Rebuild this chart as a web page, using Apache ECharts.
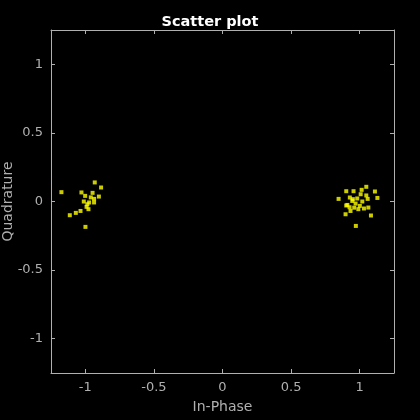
<!DOCTYPE html>
<html><head><meta charset="utf-8">
<script src="https://cdn.jsdelivr.net/npm/echarts@6/dist/echarts.min.js"></script>
<style>html,body{margin:0;padding:0;background:#000}#c{width:420px;height:420px}</style>
</head><body><div id="c"></div>
<script>
const titleText = "Scatter plot";
const xName = "In-Phase";
const yName = "Quadrature";
const tickValues = [-1, -0.5, 0, 0.5, 1];
const inPhase = [
  -1.174, -0.931, -0.885, -1.028, -0.947, -1.001, -0.901, -0.936, -1.011, -0.972,
  -0.936, -0.991, -0.977, -1.035, -1.069, -1.113, -0.999, -0.960, -0.985,
  0.902, 0.955, 1.014, 1.048, 1.111, 0.846, 0.928, 0.982, 1.007, 1.048,
  1.058, 1.129, 0.946, 0.970, 1.019, 0.902, 0.926, 1.001, 1.031, 1.063,
  0.933, 0.897, 1.082, 0.972, 0.950, 0.990, 0.960, 0.910
];
const quadrature = [
  0.068, 0.139, 0.102, 0.066, 0.063, 0.041, 0.036, 0.019, 0.000, -0.007,
  -0.007, -0.039, -0.056, -0.069, -0.083, -0.100, -0.185, 0.030, -0.020,
  0.075, 0.075, 0.085, 0.107, 0.073, 0.019, 0.029, 0.022, 0.053, 0.044,
  0.019, 0.026, 0.004, -0.015, 0.000, -0.029, -0.042, -0.032, -0.051, -0.044,
  -0.069, -0.093, -0.102, -0.178, 0.017, -0.056, -0.045, -0.025
];
const points = inPhase.map((x, i) => [x, quadrature[i]]);
const axisColor = '#b0b0b0';
const font = 'DejaVu Sans';
const baseAxis = {
  min: -1.25, max: 1.25, interval: 0.5,
  axisLine: { show: true, onZero: false, lineStyle: { color: axisColor, width: 1 } },
  axisTick: { show: true, inside: true, length: 4, lineStyle: { color: axisColor } },
  splitLine: { show: false },
  axisLabel: { color: axisColor, fontFamily: font, fontSize: 13 }
};
function ax(extra) { return Object.assign({}, JSON.parse(JSON.stringify(baseAxis)), extra); }
const chart = echarts.init(document.getElementById('c'));
const xMain = ax({ type: 'value', position: 'bottom', name: xName, nameLocation: 'middle', nameGap: 27,
  nameMoveOverlap: false,
  nameTextStyle: { color: axisColor, fontFamily: font, fontSize: 14 } });
xMain.axisTick.customValues = tickValues;
xMain.axisLabel.customValues = tickValues;
xMain.axisLabel.formatter = v => String(v);
xMain.axisLabel.margin = 8;
const xTop = ax({ type: 'value', position: 'top' });
xTop.axisTick.customValues = tickValues;
xTop.axisLabel = { show: false };
const yMain = ax({ type: 'value', position: 'left', name: yName, nameLocation: 'middle', nameGap: 36,
  nameMoveOverlap: false,
  nameTextStyle: { color: axisColor, fontFamily: font, fontSize: 14 } });
yMain.axisTick.customValues = tickValues;
yMain.axisLabel.customValues = tickValues;
yMain.axisLabel.formatter = v => String(v);
yMain.axisLabel.margin = 8;
const yRight = ax({ type: 'value', position: 'right' });
yRight.axisTick.customValues = tickValues;
yRight.axisLabel = { show: false };
chart.setOption({
  backgroundColor: '#000000',
  animation: false,
  title: { text: titleText, left: 'center', top: 10,
    textStyle: { color: '#ffffff', fontFamily: font, fontSize: 14.5, fontWeight: 'bold' } },
  grid: { left: 51, top: 30, width: 343, height: 343, containLabel: false, outerBoundsMode: 'none' },
  xAxis: [xMain, xTop],
  yAxis: [yMain, yRight],
  series: [{
    type: 'scatter', xAxisIndex: 0, yAxisIndex: 0,
    data: points, symbol: 'rect', symbolSize: 4,
    itemStyle: { color: '#ffff00' }
  }]
});
</script></body></html>
